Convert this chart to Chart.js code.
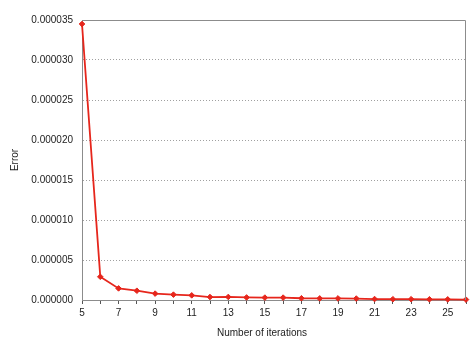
<!DOCTYPE html>
<html>
<head>
<meta charset="utf-8">
<script src="https://cdn.jsdelivr.net/npm/chart.js@4"></script>
<style>
html,body{margin:0;padding:0;background:#fff;}
#wrap{width:474px;height:355px;position:relative;}
</style>
</head>
<body>
<div id="wrap"><canvas id="c" width="474" height="355"></canvas></div>
<script>
const iterations = [5,6,7,8,9,10,11,12,13,14,15,16,17,18,19,20,21,22,23,24,25,26];
const errors = [0.0000345,0.0000029,0.00000145,0.00000116,0.0000008,0.00000067,0.00000058,0.00000037,0.00000038,0.00000032,0.0000003,0.0000003,0.00000022,0.0000002,0.0000002,0.00000018,0.00000012,0.0000001,0.0000001,0.00000009,0.00000008,0.00000005];
const xTitle = "Number of iterations";
const yTitle = "Error";

const fam = "'Liberation Sans', Arial, sans-serif";
const font = {family: fam, size: 10};

const boxPlugin = {
  id: 'box',
  afterDraw(chart) {
    const {ctx, chartArea: a} = chart;
    ctx.save();
    ctx.strokeStyle = '#8c8c8c';
    ctx.lineWidth = 1;
    ctx.beginPath();
    ctx.moveTo(a.left, a.top + 0.5);
    ctx.lineTo(a.right - 0.5, a.top + 0.5);
    ctx.lineTo(a.right - 0.5, a.bottom);
    ctx.stroke();
    // x axis title
    ctx.fillStyle = '#222';
    ctx.font = '10px ' + fam;
    ctx.textAlign = 'center';
    ctx.textBaseline = 'middle';
    ctx.fillText(xTitle, (a.left + a.right) / 2 - 12, a.bottom + 33);
    ctx.restore();
  }
};

new Chart(document.getElementById('c'), {
  type: 'line',
  data: {
    datasets: [{
      data: iterations.map((x, i) => ({x, y: errors[i]})),
      borderColor: '#e6261c',
      backgroundColor: '#e6261c',
      borderWidth: 1.8,
      pointStyle: 'rectRot',
      pointRadius: 2.8,
      pointBorderWidth: 1,
      tension: 0,
      clip: 4
    }]
  },
  options: {
    responsive: false,
    animation: false,
    layout: {padding: {left: 0, right: 8, top: 20, bottom: 0}},
    plugins: {legend: {display: false}, tooltip: {enabled: false}},
    scales: {
      x: {
        type: 'linear',
        min: 5, max: 26,
        afterFit: s => { s.height = 55; },
        grid: {drawOnChartArea: false, color: '#555', tickLength: 4, drawTicks: true},
        border: {color: '#8c8c8c'},
        ticks: {
          stepSize: 1, autoSkip: false, maxRotation: 0, color: '#222', font, padding: 3,
          callback: v => (v % 2 === 1 && v <= 25) ? String(v) : ''
        }
      },
      y: {
        min: 0, max: 0.000035,
        afterFit: s => { s.width = 82; },
        grid: {color: '#a0a0a0', drawTicks: false},
        border: {color: '#8c8c8c', dash: [1, 2]},
        ticks: {stepSize: 0.000005, color: '#222', font, padding: 9, callback: v => v.toFixed(6)},
        title: {display: true, text: yTitle, color: '#222', font, padding: {top: 9, bottom: 0}}
      }
    }
  },
  plugins: [boxPlugin]
});
</script>
</body>
</html>
